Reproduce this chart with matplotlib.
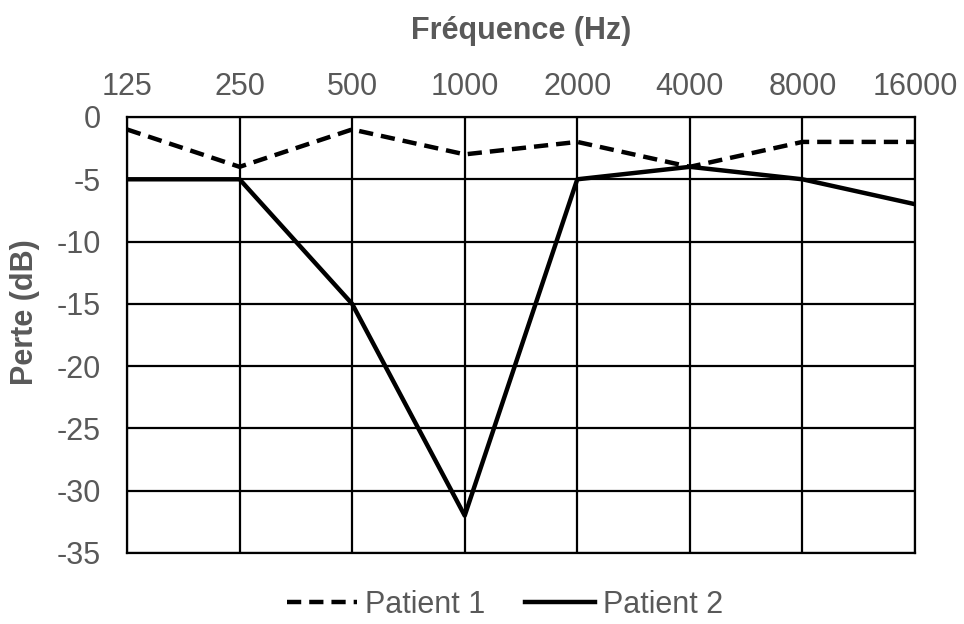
import matplotlib.pyplot as plt
import numpy as np

# audiogram data
freqs = ["125", "250", "500", "1000", "2000", "4000", "8000", "16000"]
patient1 = [-1, -4, -1, -3, -2, -4, -2, -2]
patient2 = [-5, -5, -15, -32, -5, -4, -5, -7]
yticks = [0, -5, -10, -15, -20, -25, -30, -35]

plt.rcParams['font.family'] = ['Liberation Sans', 'DejaVu Sans']
plt.rcParams['axes.unicode_minus'] = False
grey = "#595959"

fig = plt.figure(figsize=(9.64, 6.24), dpi=100)
ax = fig.add_axes([127/964, 1 - 553/624, (915-127)/964, (553-117)/624])

x = np.arange(len(freqs))
ax.plot(x, patient1, color="black", lw=3.2, ls=(0, (3.2, 1.8)), label="Patient 1")
ax.plot(x, patient2, color="black", lw=3.2, label="Patient 2")

ax.set_xlim(0, len(freqs) - 1)
ax.set_ylim(-35, 0)
ax.set_xticks(x)
ax.set_xticklabels(freqs)
ax.set_yticks(yticks)
ax.xaxis.tick_top()
ax.tick_params(axis="both", length=0, labelsize=22, colors=grey)
ax.tick_params(axis="x", pad=11)
ax.tick_params(axis="y", pad=19)
ax.grid(True, color="black", lw=1.6)
for s in ax.spines.values():
    s.set_color("black")
    s.set_linewidth(1.6)

fig.text(521/964, 1 - 31/624, "Fréquence (Hz)", ha="center", va="center",
         fontsize=22, fontweight="bold", color=grey)
fig.text(25/964, 1 - 312/624, "Perte (dB)", ha="center", va="center",
         rotation=90, fontsize=22, fontweight="bold", color=grey)

leg = fig.legend(loc="center", bbox_to_anchor=(505/964, 1 - 605/624), ncol=2,
                 frameon=False, fontsize=22, handlelength=2.3, handletextpad=0.25,
                 columnspacing=1.3)
for t in leg.get_texts():
    t.set_color(grey)

fig.savefig("out.png", dpi=100)
